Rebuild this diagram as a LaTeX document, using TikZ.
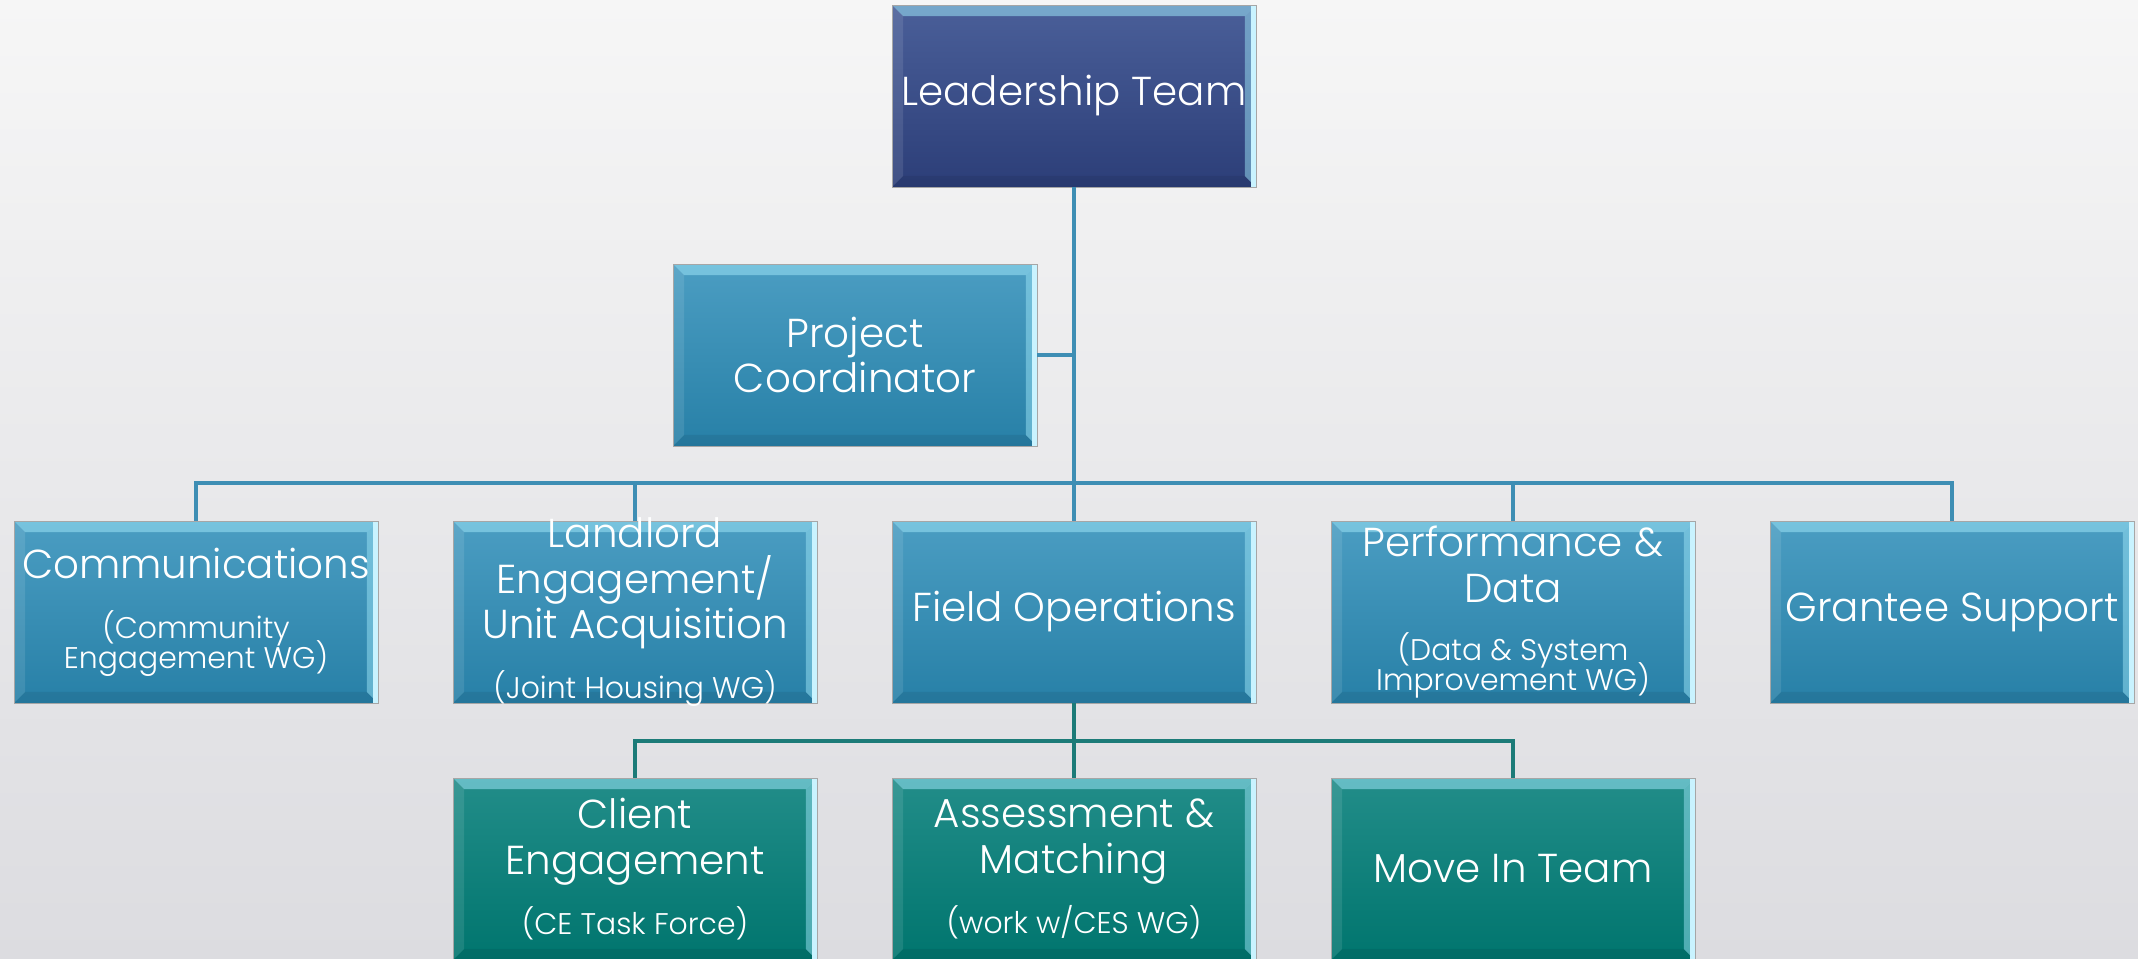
\documentclass[tikz,border=0pt]{standalone}
\usepackage{fontspec}
\setmainfont{Poppins}[UprightFont=* Light]
\usetikzlibrary{shadings}

\definecolor{bgtop}{HTML}{F6F6F6}
\definecolor{bgbot}{HTML}{DCDCE0}
\definecolor{leadtop}{HTML}{4A5F99}
\definecolor{leadbot}{HTML}{2C3E78}
\definecolor{midtop}{HTML}{4B9DC2}
\definecolor{midbot}{HTML}{2780A7}
\definecolor{lowtop}{HTML}{228D89}
\definecolor{lowbot}{HTML}{00756E}
\definecolor{linkblue}{HTML}{3E8EB4}
\definecolor{linkteal}{HTML}{1C7B78}
\definecolor{rimlight}{HTML}{C9F3FF}
\definecolor{bevel}{HTML}{9BE3F5}

\newcommand{\mainsz}{\fontsize{23}{26}\selectfont}
\newcommand{\subsz}{\fontsize{17}{17}\selectfont}

\tikzset{
  box/.style={rectangle,minimum width=7.28cm,minimum height=3.64cm,inner sep=0pt,
    draw=black!35,line width=0.4pt,text=white,align=center,font=\mainsz,
    path picture={
      \fill[bevel,opacity=.55] (path picture bounding box.north west) -- (path picture bounding box.north east)
        -- ([xshift=-0.22cm,yshift=-0.22cm]path picture bounding box.north east)
        -- ([xshift=0.22cm,yshift=-0.22cm]path picture bounding box.north west) -- cycle;
      \fill[white,opacity=.1] (path picture bounding box.north west) -- (path picture bounding box.south west)
        -- ([xshift=0.22cm,yshift=0.22cm]path picture bounding box.south west)
        -- ([xshift=0.22cm,yshift=-0.22cm]path picture bounding box.north west) -- cycle;
      \fill[black,opacity=.07] (path picture bounding box.south west) -- (path picture bounding box.south east)
        -- ([xshift=-0.22cm,yshift=0.22cm]path picture bounding box.south east)
        -- ([xshift=0.22cm,yshift=0.22cm]path picture bounding box.south west) -- cycle;
      \fill[bevel,opacity=.5] (path picture bounding box.north east) -- (path picture bounding box.south east)
        -- ([xshift=-0.22cm,yshift=0.22cm]path picture bounding box.south east)
        -- ([xshift=-0.22cm,yshift=-0.22cm]path picture bounding box.north east) -- cycle;
      \fill[rimlight] ([xshift=-0.09cm]path picture bounding box.north east) rectangle (path picture bounding box.south east);
    }},
  leadbox/.style={box,top color=leadtop,bottom color=leadbot},
  midbox/.style={box,top color=midtop,bottom color=midbot},
  lowbox/.style={box,top color=lowtop,bottom color=lowbot},
  tight/.style={inner ysep=-0.3cm},
  link/.style={line width=1.8pt,linkblue},
  sublink/.style={line width=1.8pt,linkteal}
}

\begin{document}
\begin{tikzpicture}[x=0.02cm,y=-0.02cm]
  % page and background
  \useasboundingbox (0,0) rectangle (2138,958);
  \clip (0,0) rectangle (2138,958);
  \shade[top color=bgtop,bottom color=bgbot] (0,0) rectangle (2138,958);

  % top of the chart
  \node[leadbox] (lead) at (1074,96) {Leadership Team};
  \node[midbox] (pc) at (855,355) {Project\\Coordinator};

  % second row
  \node[midbox] (comm) at (196,612) {Communications\\[8pt]\subsz (Community\\[-9pt]\subsz Engagement WG)};
  \node[midbox,tight] (land) at (635,612) {Landlord\\Engagement/\\Unit Acquisition\\[8pt]\subsz (Joint Housing WG)};
  \node[midbox] (field) at (1074,612) {Field Operations};
  \node[midbox,tight] (perf) at (1513,612) {Performance \&\\Data\\[7pt]\subsz (Data \& System\\[-9pt]\subsz Improvement WG)};
  \node[midbox] (grant) at (1952,612) {Grantee Support};

  % third row
  \node[lowbox] (client) at (635,869) {Client\\Engagement\\[8pt]\subsz (CE Task Force)};
  \node[lowbox] (assess) at (1074,869) {Assessment \&\\Matching\\[8pt]\subsz (work w/CES WG)};
  \node[lowbox] (movein) at (1513,869) {Move In Team};

  % connectors
  \coordinate (hub) at (1074,483);
  \coordinate (subhub) at (1074,741);
  \draw[link] (lead.south) -- (field.north);
  \draw[link] (pc.east) -- (pc.east -| lead.south);
  \foreach \n in {comm,land,perf,grant}
    \draw[link] (\n.north) |- (hub);
  \draw[sublink] (field.south) -- (assess.north);
  \foreach \n in {client,movein}
    \draw[sublink] (\n.north) |- (subhub);
\end{tikzpicture}
\end{document}
